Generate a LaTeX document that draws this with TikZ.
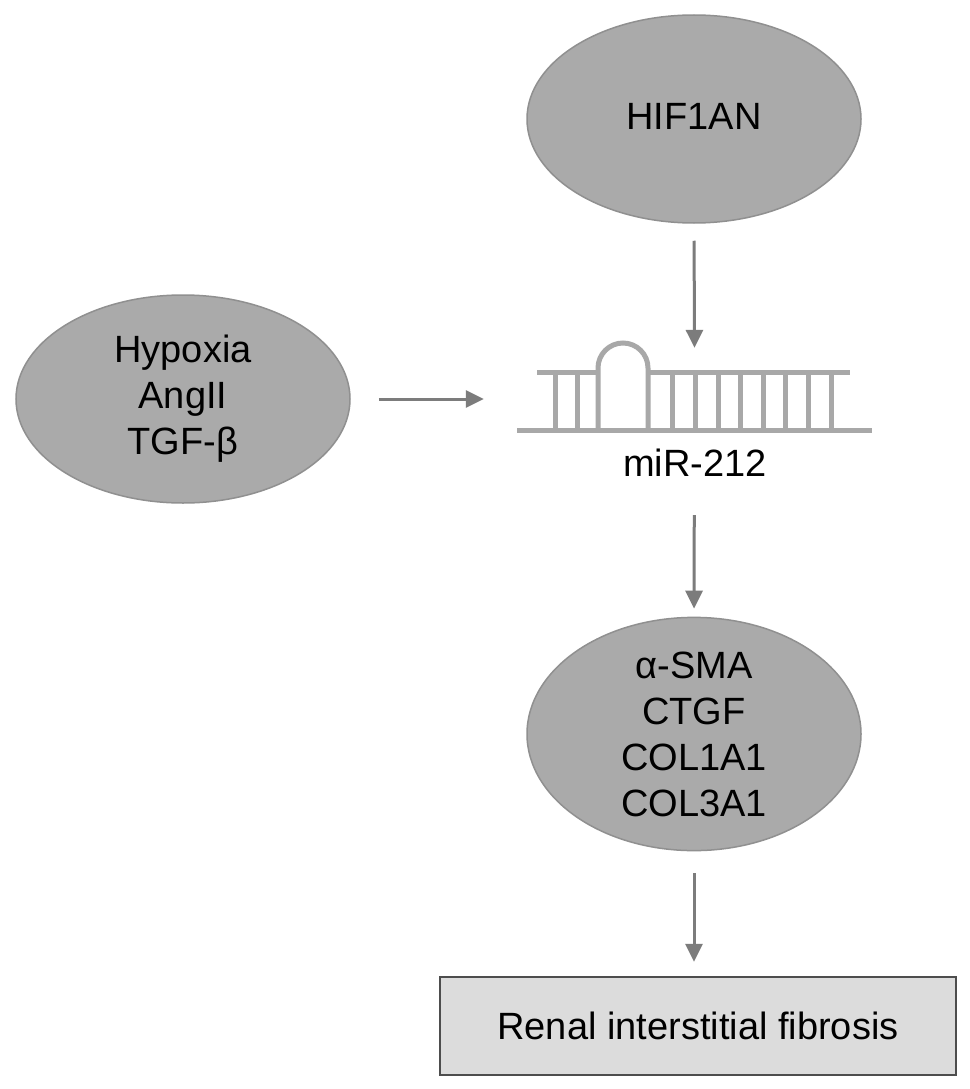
\documentclass[tikz,border=0pt]{standalone}
\usepackage{fontspec}
\setmainfont{Liberation Sans}
\usetikzlibrary{shapes.geometric,arrows.meta}
\definecolor{ellfill}{HTML}{AAAAAA}
\definecolor{elldraw}{HTML}{909090}
\definecolor{arrcol}{HTML}{7C7C7C}
\definecolor{rnacol}{HTML}{A8A8A8}
\definecolor{boxfill}{HTML}{DCDCDC}
\definecolor{boxdraw}{HTML}{4D4D4D}
\begin{document}
\begin{tikzpicture}[x=1pt,y=-1pt,
  bigtext/.style={font=\fontsize{38}{46}\selectfont, text=black, align=center},
  blob/.style={ellipse, fill=ellfill, draw=elldraw, line width=1.5pt,
    minimum width=334pt, minimum height=208pt, inner sep=0pt, bigtext},
  resultbox/.style={rectangle, fill=boxfill, draw=boxdraw, line width=2.5pt,
    minimum width=516pt, minimum height=98pt, inner sep=0pt, bigtext},
  flow/.style={draw=arrcol, line width=3pt, -{Triangle[width=17pt,length=18pt]}},
  rna/.style={draw=rnacol, line width=5pt}
]
\useasboundingbox (0,0) rectangle (969,1089);
\fill[white] (0,0) rectangle (969,1089);

\node[blob] (hif) at (694,119) {\raisebox{6pt}{HIF1AN}};
\node[blob] (hyp) at (183,399) {Hypoxia\\AngII\\TGF-β};
\node[blob] (sma) at (694,734) {α-SMA\\CTGF\\COL1A1\\COL3A1};
\node[resultbox] (ren) at (698,1026) {Renal interstitial fibrosis};

% miRNA hairpin graphic
\node[minimum width=355pt, minimum height=87pt, inner sep=0pt] (mir) at (694.5,386.5) {};
\draw[rna] (517,430) -- (872,430);
\draw[rna] (537,372) -- (598,372);
\draw[rna] (648,372) -- (850,372);
\draw[rna] (598,430) -- (598,368) arc[start angle=180, end angle=0, radius=25pt] -- (648,430);
\foreach \sx in {555,577.3,672.3,695,718.3,740.7,763.3,785,808.3,831}
  \draw[rna] (\sx,372) -- (\sx,430);
\node[bigtext, inner sep=0pt] (mirlbl) at (695,463) {miR-212};

% connectors
\draw[flow, shorten <=17pt, shorten >=-5pt] (hif.south) -- (mir.north);
\draw[flow, shorten <=28pt, shorten >=33pt] (hyp.east) -- (hyp.east -| mir.west);
\draw[flow, shorten <=85pt, shorten >=8pt] (mir.south) -- (sma.north);
\draw[flow, shorten <=22pt, shorten >=14pt] (sma.south) -- (sma.south |- ren.north);
\end{tikzpicture}
\end{document}
